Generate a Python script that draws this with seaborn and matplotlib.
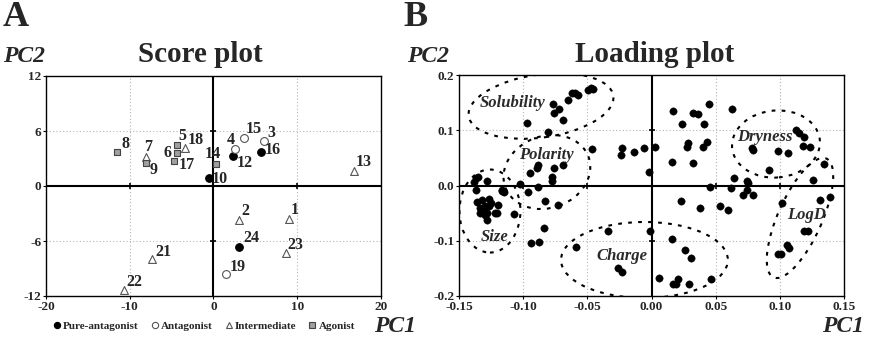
import numpy as np
import pandas as pd
import matplotlib
matplotlib.use("Agg")
import matplotlib.pyplot as plt
import seaborn as sns
from matplotlib.patches import Ellipse
from matplotlib.lines import Line2D
from matplotlib.transforms import Affine2D

# ---- score plot data (PC1, PC2 per compound) ----
score_id = [1, 2, 3, 4, 5, 6, 7, 8, 9, 10, 12, 13, 14, 15, 16, 17, 18, 19, 21, 22, 23, 24]
score_pc1 = [9.0, 3.1, 6.0, 2.6, -4.3, -4.3, -8.1, -11.5, -8.1, -0.5, 2.3, 16.8, 0.3, 3.6, 5.7,
             -4.7, -3.4, 1.5, -7.3, -10.7, 8.7, 3.1]
score_pc2 = [-3.6, -3.7, 4.9, 4.0, 4.5, 3.6, 3.2, 3.7, 2.5, 0.9, 3.3, 1.6, 2.4, 5.2, 3.7,
             2.7, 4.2, -9.6, -8.0, -11.3, -7.3, -6.6]
score_group = ["Intermediate", "Intermediate", "Antagonist", "Antagonist", "Agonist", "Agonist",
               "Intermediate", "Agonist", "Agonist", "Pure-antagonist", "Pure-antagonist",
               "Intermediate", "Agonist", "Antagonist", "Pure-antagonist", "Agonist",
               "Intermediate", "Antagonist", "Intermediate", "Intermediate", "Intermediate",
               "Pure-antagonist"]
groups = ["Pure-antagonist", "Antagonist", "Intermediate", "Agonist"]

# label offsets in pixels (dx, dy)
label_offsets = {1: (6, 9), 2: (6, 9), 3: (8, 8), 4: (-5, 9), 5: (5, 9), 6: (-10, 0), 7: (2, 10),
                 8: (8, 8), 9: (8, -7), 10: (10, -1), 12: (12, -7), 13: (9, 9), 14: (-3, 10),
                 15: (10, 9), 16: (12, 2), 17: (13, -4), 18: (11, 7), 19: (12, 7), 21: (11, 7),
                 22: (10, 8), 23: (9, 8), 24: (12, 8)}

# ---- loading plot data ----
load_pc1 = [-0.0497, -0.0474, -0.0454, -0.0622, -0.0600, -0.057, -0.0653, -0.0765, -0.072, -0.076,
            -0.0692, -0.0968, -0.0804,
            -0.0461, -0.0228, -0.0238, -0.0136, -0.0058, 0.0027,
            -0.0882, -0.089, -0.0947, -0.0758, -0.069, -0.0778, -0.0773, -0.0017,
            -0.135, -0.137, -0.138, -0.128, -0.1168, -0.115, -0.1025, -0.0965, -0.0887, -0.137,
            -0.136, -0.1323, -0.127, -0.125, -0.1337, -0.131, -0.127, -0.1194, -0.1206, -0.1284,
            -0.107, -0.1337, -0.1284, -0.130, -0.1298, -0.1165, -0.122,
            -0.083, -0.0731, -0.0836, -0.0939, -0.0877, -0.0591, -0.0337, -0.0259, -0.0232, -0.0012,
            0.017, 0.0326, 0.0365, 0.0448, 0.063, 0.024, 0.0412, 0.0282, 0.0279, 0.043, 0.0404,
            0.0157, 0.0321,
            0.0781, 0.0794, 0.0983, 0.1061, 0.1124, 0.115, 0.1191, 0.1183, 0.1235, 0.1344, 0.0916,
            0.0645, 0.0747, 0.1261, 0.0456, 0.062, 0.0742, 0.0711, 0.0794, 0.075,
            0.0227, 0.0378, 0.0534, 0.0599, 0.1015, 0.1313, 0.1391, 0.1189, 0.1222, 0.1054, 0.1074,
            0.0988, 0.1007, 0.0162, 0.0261, 0.0305, 0.0058, 0.017, 0.0191, 0.0209, 0.0295, 0.0464]
load_pc2 = [0.173, 0.176, 0.175, 0.167, 0.167, 0.164, 0.155, 0.1475, 0.138, 0.131,
            0.119, 0.113, 0.096,
            0.066, 0.067, 0.055, 0.061, 0.067, 0.069,
            0.037, 0.032, 0.023, 0.032, 0.037, 0.015, 0.009, 0.024,
            0.016, 0.013, 0.007, 0.008, -0.008, -0.011, 0.003, -0.012, -0.003, -0.008,
            -0.029, -0.026, -0.025, -0.031, -0.041, -0.044, -0.038, -0.035, -0.050, -0.062,
            -0.052, -0.050, -0.050, -0.054, -0.038, -0.010, -0.050,
            -0.0275, -0.0353, -0.0763, -0.1047, -0.1017, -0.1107, -0.0824, -0.150, -0.156, -0.0824,
            0.1354, 0.1318, 0.1294, 0.1475, 0.1385, 0.1113, 0.1113, 0.0764, 0.069, 0.0782, 0.069,
            0.042, 0.040,
            0.0673, 0.0643, 0.063, 0.0594, 0.1004, 0.0956, 0.0884, 0.0715, 0.069, 0.0389, 0.028,
            0.013, 0.008, 0.010, -0.002, -0.005, -0.008, -0.0172, -0.0172, 0.004,
            -0.0275, -0.040, -0.038, -0.0443, -0.0322, -0.0262, -0.0214, -0.0818, -0.0818, -0.1077,
            -0.1137, -0.124, -0.124, -0.0974, -0.1167, -0.1318, -0.168, -0.178, -0.178, -0.169,
            -0.178, -0.169]

# property regions (ellipse centre, width/height in PC1 units, screen angle)
ell_name = ["Solubility", "Polarity", "Size", "Charge", "Dryness", "LogD"]
ell_cx = [-0.0861, -0.0815, -0.1259, -0.0055, 0.097, 0.1157]
ell_cy = [0.1439, 0.0244, -0.0462, -0.1348, 0.0751, -0.0588]
ell_w = [0.1138, 0.069, 0.0475, 0.130, 0.0686, 0.1013]
ell_h = [0.0491, 0.056, 0.0647, 0.0592, 0.0522, 0.0343]
ell_angle = [8, 20, 0, 0, 5, 66]
ell_label_x = [-0.1085, -0.0817, -0.122, -0.0232, 0.0885, 0.121]
ell_label_y = [0.1488, 0.0552, -0.0927, -0.1276, 0.0883, -0.0534]

sns.set_theme(style="white")
plt.rcParams["font.family"] = ["Liberation Serif", "DejaVu Serif"]
plt.rcParams["font.weight"] = "bold"

W, H = 8.75, 3.41
fig = plt.figure(figsize=(W, H), dpi=100)
ax1 = fig.add_axes([46 / 875, 45 / 341, 335 / 875, 220 / 341])
ax2 = fig.add_axes([459 / 875, 45 / 341, 385 / 875, 221 / 341])

df = pd.DataFrame({"id": score_id, "PC1": score_pc1, "PC2": score_pc2, "group": score_group})
styles = {
    "Pure-antagonist": dict(marker="o", s=30, color="black", edgecolor="black"),
    "Antagonist": dict(marker="o", s=32, color="white", edgecolor="#555555"),
    "Intermediate": dict(marker="^", s=32, color="white", edgecolor="#555555"),
    "Agonist": dict(marker="s", s=22, color="#a0a0a0", edgecolor="#444444"),
}

for ax in (ax1, ax2):
    for sp in ax.spines.values():
        sp.set_color("black")
        sp.set_linewidth(1.0)
    ax.tick_params(axis="both", which="both", length=2.5, width=0.8, direction="out",
                   labelsize=9.5, pad=1, left=True, bottom=True, color="black")

# ---- Score plot ----
for g in groups:
    sub = df[df["group"] == g]
    st = styles[g]
    sns.scatterplot(data=sub, x="PC1", y="PC2", ax=ax1, marker=st["marker"], s=st["s"],
                    color=st["color"], edgecolor=st["edgecolor"], linewidth=0.8, zorder=4, legend=False)
for i, x, y in zip(score_id, score_pc1, score_pc2):
    dx, dy = label_offsets[i]
    ax1.annotate(str(i), (x, y), xytext=(dx, dy), textcoords="offset pixels",
                 ha="center", va="center", fontsize=11.5, fontweight="bold", zorder=5)

ax1.set_xlim(-20, 20)
ax1.set_ylim(-12, 12)
score_xticks = [-20, -10, 0, 10, 20]
score_yticks = [-12, -6, 0, 6, 12]
ax1.set_xticks(score_xticks)
ax1.set_yticks(score_yticks)
ax1.set_xticklabels([str(t) for t in score_xticks])
ax1.set_yticklabels([str(t) for t in score_yticks])
ax1.set_xlabel("")
ax1.set_ylabel("")
for t in [-10, 10]:
    ax1.axvline(t, color="#b5b5b5", ls=(0, (1, 2)), lw=0.8, zorder=1)
for t in [-6, 6]:
    ax1.axhline(t, color="#b5b5b5", ls=(0, (1, 2)), lw=0.8, zorder=1)
ax1.axhline(0, color="black", lw=1.5, zorder=2)
ax1.axvline(0, color="black", lw=1.5, zorder=2)
ax1.plot([-10, 10], [0, 0], ls="", marker="|", ms=4, mew=1.2, color="black", zorder=2)
ax1.plot([0, 0], [-6, 6], ls="", marker="_", ms=4, mew=1.2, color="black", zorder=2)

handles = [Line2D([], [], ls="", marker=styles[g]["marker"], markersize=4.5,
                  markerfacecolor=styles[g]["color"], markeredgecolor=styles[g]["edgecolor"],
                  markeredgewidth=0.8) for g in groups]
ax1.legend(handles, groups, loc="upper center", bbox_to_anchor=(0.47, -0.095), ncol=4,
           frameon=False, handletextpad=0.1, columnspacing=1.0,
           handlelength=0.9, borderaxespad=0, prop={"weight": "bold", "size": 8.0})

# ---- Loading plot ----
ld = pd.DataFrame({"PC1": load_pc1, "PC2": load_pc2})
sns.scatterplot(data=ld, x="PC1", y="PC2", ax=ax2, color="black", s=28, edgecolor="black",
                linewidth=0.3, zorder=4, legend=False)
ax2.set_xlim(-0.15, 0.15)
ax2.set_ylim(-0.2, 0.2)
load_xticks = [-0.15, -0.10, -0.05, 0.0, 0.05, 0.10, 0.15]
load_yticks = [-0.2, -0.1, 0.0, 0.1, 0.2]
ax2.set_xticks(load_xticks)
ax2.set_yticks(load_yticks)
ax2.set_xticklabels([f"{t:.2f}" for t in load_xticks])
ax2.set_yticklabels([f"{t:.1f}" for t in load_yticks])
ax2.set_xlabel("")
ax2.set_ylabel("")
for t in [-0.1, -0.05, 0.05, 0.1]:
    ax2.axvline(t, color="#b5b5b5", ls=(0, (1, 2)), lw=0.8, zorder=1)
for t in [-0.1, 0.1]:
    ax2.axhline(t, color="#b5b5b5", ls=(0, (1, 2)), lw=0.8, zorder=1)
ax2.axhline(0, color="black", lw=1.5, zorder=2)
ax2.axvline(0, color="black", lw=1.5, zorder=2)
ax2.plot([-0.1, -0.05, 0.05, 0.1], [0, 0, 0, 0], ls="", marker="|", ms=4, mew=1.2, color="black", zorder=2)
ax2.plot([0, 0], [-0.1, 0.1], ls="", marker="_", ms=4, mew=1.2, color="black", zorder=2)

# ellipses drawn in an isotropic (screen-like) space
px_x = (385 / 0.3)
px_y = (221 / 0.4)
ry = px_y / px_x
etrans = Affine2D().scale(1, 1 / ry) + ax2.transData
for name, cx, cy, w, h, a, lx, ly in zip(ell_name, ell_cx, ell_cy, ell_w, ell_h, ell_angle,
                                         ell_label_x, ell_label_y):
    e = Ellipse((cx, cy * ry), w, h, angle=a, fill=False, ec="black", lw=1.5,
                ls=(0, (1.8, 3.0)), transform=etrans, zorder=3, clip_on=True)
    ax2.add_patch(e)
    ax2.text(lx, ly, name, ha="center", va="center", fontsize=12, style="italic",
             fontweight="bold", color="#2a2a2a", zorder=5)

# ---- titles and axis names ----
fig.text(200 / 875, 1 - 55 / 341, "Score plot", ha="center", va="center", fontsize=21, fontweight="bold")
fig.text(655 / 875, 1 - 55 / 341, "Loading plot", ha="center", va="center", fontsize=21, fontweight="bold")
fig.text(3 / 875, 1 - 17 / 341, "A", ha="left", va="center", fontsize=26, fontweight="bold")
fig.text(403 / 875, 1 - 17 / 341, "B", ha="left", va="center", fontsize=26, fontweight="bold")
for x0 in (3, 407):
    fig.text(x0 / 875, 1 - 56 / 341, "PC2", ha="left", va="center", fontsize=17,
             fontweight="bold", style="italic")
for x0 in (416, 864):
    fig.text(x0 / 875, 1 - 327 / 341, "PC1", ha="right", va="center", fontsize=17,
             fontweight="bold", style="italic")

fig.savefig("out.png", dpi=100)
